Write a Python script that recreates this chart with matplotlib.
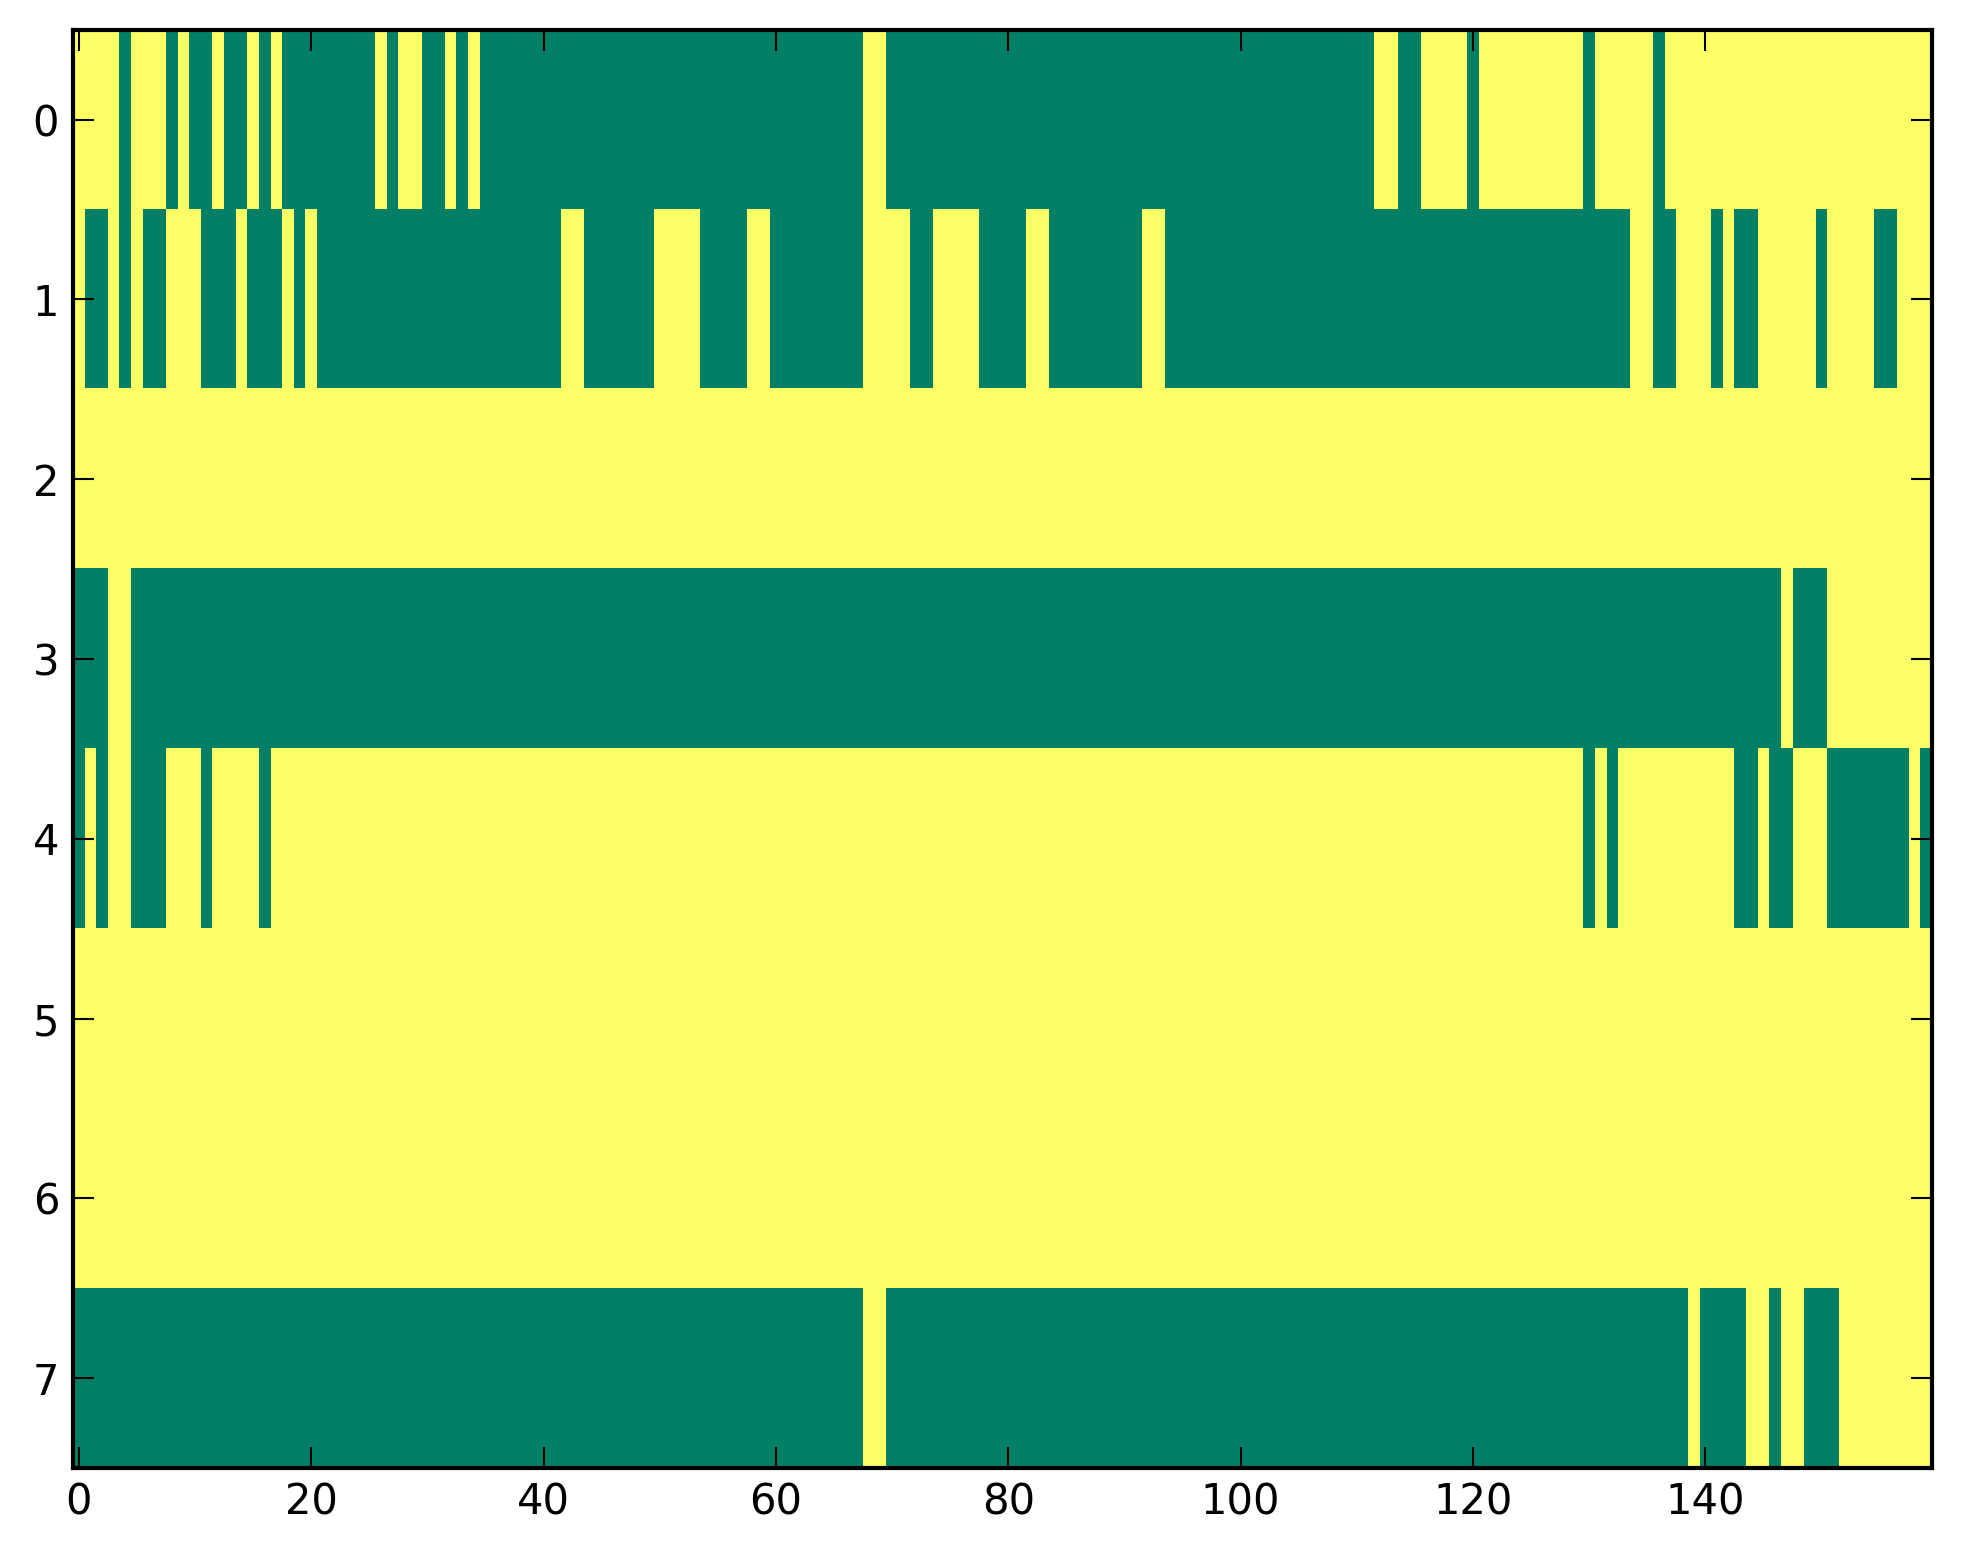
import numpy as np
import matplotlib
matplotlib.use("Agg")
import matplotlib.pyplot as plt

# each row as (value, run length); 1 = yellow, 0 = green
row0 = [(1, 4), (0, 1), (1, 3), (0, 1), (1, 1), (0, 2), (1, 1), (0, 2), (1, 1), (0, 1),
        (1, 1), (0, 8), (1, 1), (0, 1), (1, 2), (0, 2), (1, 1), (0, 1), (1, 1), (0, 33),
        (1, 2), (0, 42), (1, 2), (0, 2), (1, 4), (0, 1), (1, 9), (0, 1), (1, 5), (0, 1),
        (1, 23)]
row1 = [(1, 1), (0, 2), (1, 1), (0, 1), (1, 1), (0, 2), (1, 3), (0, 3), (1, 1), (0, 3),
        (1, 1), (0, 1), (1, 1), (0, 21), (1, 2), (0, 6), (1, 4), (0, 4), (1, 2), (0, 8),
        (1, 4), (0, 2), (1, 4), (0, 4), (1, 2), (0, 8), (1, 2), (0, 40), (1, 2), (0, 2),
        (1, 3), (0, 1), (1, 1), (0, 2), (1, 5), (0, 1), (1, 4), (0, 2), (1, 3)]
row2 = [(1, 160)]
row3 = [(0, 3), (1, 2), (0, 142), (1, 1), (0, 3), (1, 9)]
row4 = [(0, 1), (1, 1), (0, 1), (1, 2), (0, 3), (1, 3), (0, 1), (1, 4), (0, 1), (1, 113),
        (0, 1), (1, 1), (0, 1), (1, 10), (0, 2), (1, 1), (0, 2), (1, 3), (0, 7), (1, 1),
        (0, 1)]
row5 = [(1, 160)]
row6 = [(1, 160)]
row7 = [(0, 68), (1, 2), (0, 69), (1, 1), (0, 4), (1, 2), (0, 1), (1, 2), (0, 3), (1, 8)]

rows = [row0, row1, row2, row3, row4, row5, row6, row7]


def expand(runs):
    vals = [v for v, n in runs]
    counts = [n for v, n in runs]
    return np.repeat(vals, counts)


grid = np.vstack([expand(r) for r in rows])

fig = plt.figure(figsize=(19.63, 15.64), dpi=100)
ax = fig.add_axes([0.0372, 0.0614, 0.9470, 0.9196])
ax.imshow(grid, cmap="summer", aspect="auto", interpolation="nearest", vmin=0, vmax=1)

ax.set_xticks([0, 20, 40, 60, 80, 100, 120, 140])
ax.set_yticks(range(8))
ax.tick_params(direction="in", length=15, width=1.5, labelsize=30,
               top=True, right=True, pad=10)
for sp in ax.spines.values():
    sp.set_linewidth(3)

fig.savefig("out.png", dpi=100)
